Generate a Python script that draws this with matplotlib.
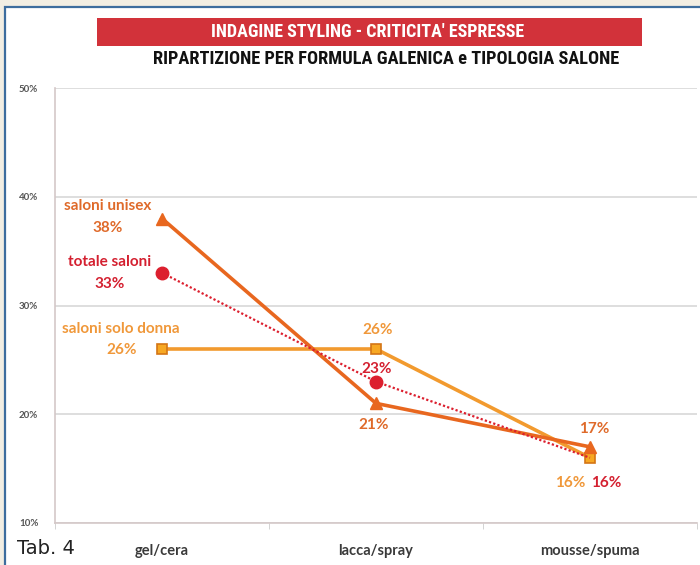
import matplotlib
matplotlib.use("Agg")
import matplotlib.pyplot as plt
from matplotlib.patches import Rectangle

categories = ["gel/cera", "lacca/spray", "mousse/spuma"]
unisex = [38, 21, 17]
totale = [33, 23, 16]
donna = [26, 26, 16]
yticks = [10, 20, 30, 40, 50]
ytick_labels = ["10%", "20%", "30%", "40%", "50%"]

TITLE_FONT = ["Roboto Condensed", "Liberation Sans Narrow", "DejaVu Sans"]
BODY_FONT = ["Lato", "DejaVu Sans"]
plt.rcParams["font.family"] = BODY_FONT

W, H = 700, 565
fig = plt.figure(figsize=(W / 100, H / 100), dpi=100)
fig.patch.set_facecolor("#f2eee3")

def fx(px):
    return px / W

def fy(py):
    return 1 - py / H

# white panel with blue border
fig.patches.append(Rectangle((fx(5), -0.01), 1 - fx(5) + 0.01, fy(7) + 0.01, transform=fig.transFigure,
                             facecolor="white", edgecolor="#3d6d9e", linewidth=1.6, zorder=-2))
# red banner
fig.patches.append(Rectangle((fx(97), fy(46)), fx(642) - fx(97), fy(18) - fy(46),
                             transform=fig.transFigure, facecolor="#d2323a", edgecolor="none", zorder=-1))
fig.text(fx(368), fy(32), "INDAGINE STYLING - CRITICITA' ESPRESSE", color="white",
         fontsize=13, fontweight="bold", ha="center", va="center", family=TITLE_FONT)
fig.text(fx(386), fy(59), "RIPARTIZIONE PER FORMULA GALENICA e TIPOLOGIA SALONE", color="#111111",
         fontsize=13.2, fontweight="bold", ha="center", va="center", family=TITLE_FONT)
fig.text(fx(17), fy(549), "Tab. 4", color="#222222", fontsize=14, ha="left", va="center",
         family=["DejaVu Sans"])

ax = fig.add_axes([fx(55), fy(523), fx(697) - fx(55), fy(88) - fy(523)])
ax.set_facecolor("white")
ax.set_xlim(-0.5, 2.5)
ax.set_ylim(10, 50)
ax.set_yticks(yticks)
ax.set_yticklabels(ytick_labels, fontsize=7, fontweight="bold", color="#555555")
ax.set_xticks(range(len(categories)))
ax.set_xticklabels(categories, fontsize=10.5, fontweight="bold", color="#3a3a3a")
ax.tick_params(axis="y", length=0, pad=12)
ax.tick_params(axis="x", length=0, pad=15)
ax.set_xticks([-0.5, 0.5, 1.5, 2.5], minor=True)
ax.tick_params(axis="x", which="minor", length=4, color="#cccccc", direction="out")
ax.grid(axis="y", color="#d8d8d8", linewidth=1.2)
ax.set_axisbelow(True)
for s in ["top", "right"]:
    ax.spines[s].set_visible(False)
for s in ["left", "bottom"]:
    ax.spines[s].set_color("#d4c8c8")
    ax.spines[s].set_linewidth(1.2)

x = list(range(len(categories)))
c_unisex = "#e8671f"
c_totale = "#dc1f2e"
c_donna = "#f29a2e"

ax.plot(x, donna, color=c_donna, linewidth=2.6, marker="s", markersize=7,
        markerfacecolor="#f7a823", markeredgecolor="#d47515", markeredgewidth=1.2, zorder=3)
ax.plot(x, unisex, color=c_unisex, linewidth=2.6, marker="^", markersize=8,
        markerfacecolor=c_unisex, markeredgecolor=c_unisex, zorder=4)
ax.plot(x, totale, color=c_totale, linewidth=1.6, linestyle=(0, (1, 1)), marker="o", markersize=9,
        markerfacecolor=c_totale, markeredgecolor=c_totale, markevery=[0, 1], zorder=5)

lbl_unisex = "#df6a2a"
lbl_totale = "#d42030"
lbl_donna = "#f0983a"

def ann(txt, xv, yv, dx, dy, color, size=11):
    ax.annotate(txt, (xv, yv), xytext=(dx, -dy), textcoords="offset pixels",
                ha="center", va="center", fontsize=size, fontweight="bold", color=color,
                annotation_clip=False)

ann("saloni unisex", 0, unisex[0], -54, -12, lbl_unisex)
ann("38%", 0, unisex[0], -54, 10, lbl_unisex)
ann("totale saloni", 0, totale[0], -52, -11, lbl_totale)
ann("33%", 0, totale[0], -52, 11, lbl_totale)
ann("saloni solo donna", 0, donna[0], -41, -20, lbl_donna)
ann("26%", 0, donna[0], -40, 1, lbl_donna)
ann("26%", 1, donna[1], 2, -19, lbl_donna)
ann("23%", 1, totale[1], 1, -13, lbl_totale)
ann("21%", 1, unisex[1], -2, 22, lbl_unisex)
ann("17%", 2, unisex[2], 4, -18, lbl_unisex)
ann("16%", 2, donna[2], -20, 25, lbl_donna)
ann("16%", 2, totale[2], 16, 25, lbl_totale)

fig.savefig("out.png", dpi=100, facecolor=fig.get_facecolor())
